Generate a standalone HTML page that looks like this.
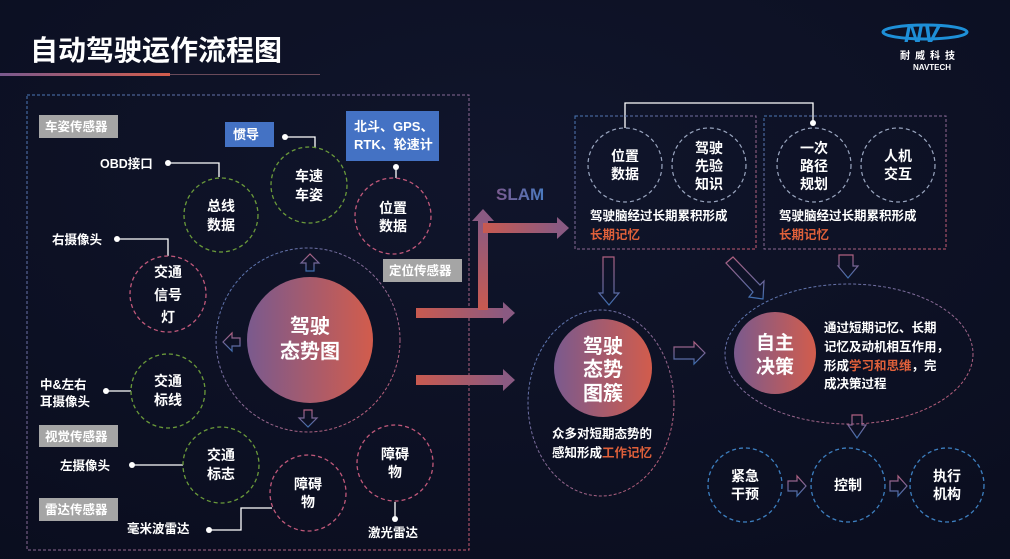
<!DOCTYPE html>
<html><head><meta charset="utf-8"><style>
html,body{margin:0;padding:0;background:#0c1024;}
svg{display:block;}
text{font-family:"Liberation Sans","Noto Sans CJK SC",sans-serif;font-weight:bold;fill:#fff;}
</style></head><body>
<svg width="1010" height="559" viewBox="0 0 1010 559" xmlns="http://www.w3.org/2000/svg">
<defs>
<radialGradient id="bg" cx="0.5" cy="0.3" r="0.9"><stop offset="0" stop-color="#10152b"/><stop offset="1" stop-color="#0a0d1e"/></radialGradient>
<linearGradient id="g1" x1="0" y1="0" x2="1" y2="0"><stop offset="0" stop-color="#7a5a8e"/><stop offset="1" stop-color="#d25c4c"/></linearGradient>
<linearGradient id="ar" x1="0" y1="0" x2="1" y2="0"><stop offset="0" stop-color="#c85a50"/><stop offset="1" stop-color="#8a5a82"/></linearGradient>
<linearGradient id="arv" x1="0" y1="1" x2="0" y2="0"><stop offset="0" stop-color="#c85a50"/><stop offset="1" stop-color="#8a5a82"/></linearGradient>
<linearGradient id="bd" x1="0" y1="0" x2="1" y2="1"><stop offset="0" stop-color="#4a78b8"/><stop offset="1" stop-color="#c85a70"/></linearGradient>
<linearGradient id="ol" x1="0" y1="0" x2="0" y2="1"><stop offset="0" stop-color="#b06080"/><stop offset="1" stop-color="#3f6fb0"/></linearGradient>
<linearGradient id="ul" x1="0" y1="0" x2="1" y2="0"><stop offset="0" stop-color="#7a5a8e"/><stop offset="1" stop-color="#d25c4c"/></linearGradient>
<linearGradient id="slam" x1="0" y1="0" x2="1" y2="0"><stop offset="0" stop-color="#7a5a8e"/><stop offset="1" stop-color="#4a7ac0"/></linearGradient>
</defs>
<rect width="1010" height="559" fill="url(#bg)"/>

<!-- title -->
<text x="30" y="60" font-size="28">自动驾驶运作流程图</text>
<rect x="0" y="73" width="170" height="3" fill="url(#ul)"/>
<rect x="170" y="74" width="150" height="1" fill="#6a4a5a"/>
<!-- logo -->
<ellipse cx="925" cy="32" rx="42" ry="7" fill="none" stroke="#1e90d8" stroke-width="3"/>
<text x="904" y="42" font-size="26" font-style="italic" style="fill:#1e8fd8" font-family="Liberation Serif">NV</text>
<text x="900" y="59" font-size="10" letter-spacing="5">耐威科技</text>
<text x="913" y="70" font-size="8" font-weight="normal">NAVTECH</text>

<!-- left box -->
<rect x="27" y="95" width="442" height="455" fill="none" stroke="url(#bd)" stroke-dasharray="3,2"/>
<g font-size="12">
<rect x="39" y="115" width="79" height="23" fill="#a5a5a5"/><text x="45" y="131" font-size="12.5">车姿传感器</text>
<rect x="383" y="259" width="79" height="23" fill="#a5a5a5"/><text x="389" y="275" font-size="12.5">定位传感器</text>
<rect x="39" y="425" width="79" height="22" fill="#a5a5a5"/><text x="45" y="441" font-size="12.5">视觉传感器</text>
<rect x="39" y="498" width="79" height="23" fill="#a5a5a5"/><text x="45" y="514" font-size="12.5">雷达传感器</text>
<rect x="225" y="122" width="49" height="25" fill="#4472c4"/><text x="233" y="139" font-size="13">惯导</text>
<rect x="346" y="111" width="93" height="50" fill="#4472c4"/><text x="354" y="131" font-size="13">北斗、GPS、</text><text x="354" y="149" font-size="13">RTK、轮速计</text>
</g>

<!-- connectors -->
<g stroke="#fff" stroke-width="1.3" fill="none">
<polyline points="168,163 219,163 219,177"/>
<polyline points="285,137 315,137 315,148"/>
<line x1="396" y1="167" x2="396" y2="178"/>
<polyline points="117,239 168,239 168,256"/>
<line x1="106" y1="391" x2="131" y2="391"/>
<line x1="132" y1="465" x2="183" y2="465"/>
<polyline points="209,530 241,530 241,508 272,508"/>
<line x1="395" y1="502" x2="395" y2="519"/>
<polyline points="625,128 625,103 813,103 813,123"/>
</g>
<g fill="#fff">
<circle cx="168" cy="163" r="3"/><circle cx="285" cy="137" r="3"/><circle cx="396" cy="167" r="3"/>
<circle cx="117" cy="239" r="3"/><circle cx="106" cy="391" r="3"/><circle cx="132" cy="465" r="3"/>
<circle cx="209" cy="530" r="3"/><circle cx="395" cy="519" r="3"/><circle cx="813" cy="123" r="3"/>
</g>
<g font-size="12.5">
<text x="100" y="168">OBD接口</text>
<text x="52" y="244">右摄像头</text>
<text x="40" y="389">中&amp;左右</text><text x="40" y="406">耳摄像头</text>
<text x="60" y="470">左摄像头</text>
<text x="127" y="533">毫米波雷达</text>
<text x="368" y="537">激光雷达</text>
</g>

<!-- small circles left -->
<g fill="none" stroke-width="1.3" stroke-dasharray="4,3">
<circle cx="221" cy="215" r="37" stroke="#6a9a3a"/>
<circle cx="309" cy="185" r="38" stroke="#6a9a3a"/>
<circle cx="393" cy="216" r="38" stroke="#c0587a"/>
<circle cx="168" cy="294" r="38" stroke="#c0587a"/>
<circle cx="168" cy="391" r="37" stroke="#6a9a3a"/>
<circle cx="221" cy="465" r="38" stroke="#6a9a3a"/>
<circle cx="308" cy="493" r="38" stroke="#c0587a"/>
<circle cx="395" cy="463" r="38" stroke="#c0587a"/>
<circle cx="308" cy="340" r="92" stroke="url(#bd)" stroke-width="1" stroke-dasharray="3,2"/>
</g>
<g font-size="14" text-anchor="middle">
<text x="221" y="211">总线</text><text x="221" y="230">数据</text>
<text x="309" y="181">车速</text><text x="309" y="200">车姿</text>
<text x="393" y="213">位置</text><text x="393" y="231">数据</text>
<text x="168" y="277">交通</text><text x="168" y="300">信号</text><text x="168" y="322">灯</text>
<text x="168" y="386">交通</text><text x="168" y="405">标线</text>
<text x="221" y="460">交通</text><text x="221" y="479">标志</text>
<text x="308" y="489">障碍</text><text x="308" y="507">物</text>
<text x="395" y="459">障碍</text><text x="395" y="477">物</text>
</g>
<circle cx="310" cy="340" r="63" fill="url(#g1)"/>
<text x="310" y="333" font-size="20" text-anchor="middle">驾驶</text>
<text x="310" y="358" font-size="20" text-anchor="middle">态势图</text>
<g fill="none" stroke="url(#ol)" stroke-width="1.2">
<path d="M310,254 L301,263 L306,263 L306,271 L314,271 L314,263 L319,263 Z"/>
<path d="M223,342 L232,333 L232,338 L240,338 L240,346 L232,346 L232,351 Z"/>
<path d="M308,427 L299,418 L304,418 L304,410 L312,410 L312,418 L317,418 Z"/>
</g>

<!-- big arrows -->
<rect x="416" y="308" width="90" height="10" fill="url(#ar)"/>
<polygon points="503,302 515,313 503,324" fill="#8a5a82"/>
<rect x="478" y="220" width="10" height="90" fill="url(#arv)"/>
<polygon points="472,221 483,209 494,221" fill="#8a5a82"/>
<rect x="483" y="223" width="76" height="10" fill="url(#ar)"/>
<polygon points="557,217 569,228 557,239" fill="#8a5a82"/>
<rect x="416" y="375" width="90" height="10" fill="url(#ar)"/>
<polygon points="503,369 515,380 503,391" fill="#8a5a82"/>
<text x="496" y="200" font-size="17" style="fill:url(#slam)">SLAM</text>

<!-- right boxes -->
<rect x="575" y="116" width="181" height="133" fill="none" stroke="url(#bd)" stroke-dasharray="3,2"/>
<rect x="764" y="116" width="182" height="133" fill="none" stroke="url(#bd)" stroke-dasharray="3,2"/>
<g fill="none" stroke="#9aa6c0" stroke-width="1.2" stroke-dasharray="4,3">
<circle cx="625" cy="165" r="37"/><circle cx="709" cy="165" r="37"/>
<circle cx="814" cy="165" r="37"/><circle cx="898" cy="165" r="37"/>
</g>
<g font-size="14" text-anchor="middle">
<text x="625" y="161">位置</text><text x="625" y="179">数据</text>
<text x="709" y="153">驾驶</text><text x="709" y="171">先验</text><text x="709" y="189">知识</text>
<text x="814" y="153">一次</text><text x="814" y="171">路径</text><text x="814" y="189">规划</text>
<text x="898" y="161">人机</text><text x="898" y="179">交互</text>
</g>
<g font-size="12.5">
<text x="590" y="220">驾驶脑经过长期累积形成</text>
<text x="590" y="239" style="fill:#e0603a">长期记忆</text>
<text x="779" y="220">驾驶脑经过长期累积形成</text>
<text x="779" y="239" style="fill:#e0603a">长期记忆</text>
</g>
<g fill="none" stroke="url(#ol)" stroke-width="1.2">
<path d="M603,257 L614,257 L614,293 L619,293 L609,305 L599,293 L603,293 Z"/>
<path d="M839,255 L853,255 L853,266 L858,266 L848,278 L838,266 L839,266 Z"/>
<path d="M726,263 L733,257 L760,285 L764,281 L763,299 L749,297 L753,292 Z"/>
<path d="M674,347 L694,347 L694,342 L705,353 L694,364 L694,359 L674,359 Z"/>
<path d="M852,415 L862,415 L862,425 L866,425 L857,438 L848,425 L852,425 Z"/>
<path d="M788,481 L797,481 L797,476 L806,486 L797,496 L797,491 L788,491 Z"/>
<path d="M890,481 L898,481 L898,476 L907,486 L898,496 L898,491 L890,491 Z"/>
</g>

<ellipse cx="601" cy="403" rx="73" ry="93" fill="none" stroke="url(#bd)" stroke-dasharray="3,2"/>
<circle cx="603" cy="368" r="49" fill="url(#g1)"/>
<g font-size="20" text-anchor="middle">
<text x="603" y="353">驾驶</text><text x="603" y="376">态势</text><text x="603" y="400">图簇</text>
</g>
<text x="552" y="438" font-size="12.5">众多对短期态势的</text>
<text x="552" y="457" font-size="12.5">感知形成<tspan style="fill:#e0603a">工作记忆</tspan></text>

<ellipse cx="849" cy="354" rx="124" ry="70" fill="none" stroke="url(#bd)" stroke-dasharray="3,2"/>
<circle cx="775" cy="353" r="41" fill="url(#g1)"/>
<text x="775" y="349" font-size="19" text-anchor="middle">自主</text>
<text x="775" y="373" font-size="19" text-anchor="middle">决策</text>
<g font-size="12.5">
<text x="824" y="332">通过短期记忆、长期</text>
<text x="824" y="351">记忆及动机相互作用，</text>
<text x="824" y="370">形成<tspan style="fill:#e0603a">学习和思维</tspan>，完</text>
<text x="824" y="388">成决策过程</text>
</g>

<g fill="none" stroke="#3d7fc0" stroke-width="1.3" stroke-dasharray="4,3">
<circle cx="745" cy="485" r="37"/><circle cx="848" cy="485" r="37"/><circle cx="947" cy="485" r="37"/>
</g>
<g font-size="14" text-anchor="middle">
<text x="745" y="481">紧急</text><text x="745" y="499">干预</text>
<text x="848" y="490">控制</text>
<text x="947" y="481">执行</text><text x="947" y="499">机构</text>
</g>
</svg>
</body></html>
